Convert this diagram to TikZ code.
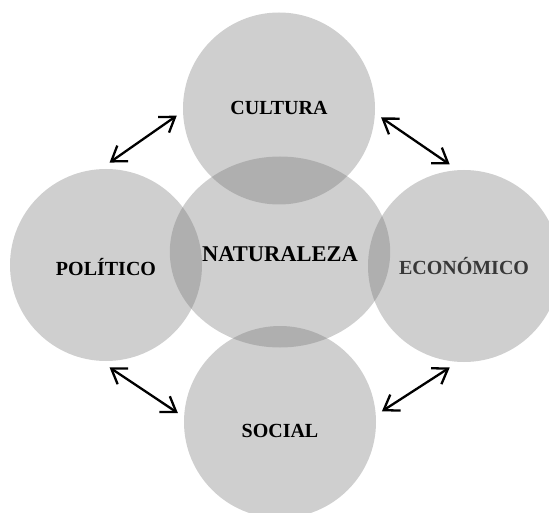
\documentclass[tikz,border=0pt]{standalone}
\usepackage{fontspec}
\setmainfont{Liberation Serif}
\usetikzlibrary{arrows.meta,shapes.geometric}

\tikzset{
    area/.style={shape=circle,fill=black!54,fill opacity=0.35,text opacity=1,
        minimum size=192pt,inner sep=0pt,outer sep=6.5pt,text height=13.2pt,text depth=0pt,
        font=\bfseries\fontsize{20}{24}\selectfont},
    biarrow/.style={line width=2.3pt,{Straight Barb[length=14pt,width=19pt]}-{Straight Barb[length=14pt,width=19pt]}}
}

\begin{document}
\begin{tikzpicture}[x=1pt,y=-1pt]%
                \useasboundingbox (0,0) rectangle (549,513);
                \node[area,text height=11.2pt] (cul) at (279,108.5) {CULTURA};
                \node[area,shape=ellipse,minimum width=202pt,minimum height=191pt,text height=19.9pt,
                    font=\bfseries\fontsize{22.5}{27}\selectfont] (nat) at (280,252) {NATURALEZA};
                \node[area,text height=20.2pt] (pol) at (106,265) {POLÍTICO};
                \node[area,text height=17.2pt,text=black!78] (eco) at (464,266) {ECONÓMICO};
                \node[area,text height=31.2pt] (soc) at (280,422) {SOCIAL};

                \path [biarrow] (pol.88) edge (cul.184);
                \path [biarrow] (cul.355) edge (eco.98);
                \path [biarrow] (pol.272) edge (soc.175);
                \path [biarrow] (soc.6) edge (eco.262);
            \end{tikzpicture}
\end{document}
